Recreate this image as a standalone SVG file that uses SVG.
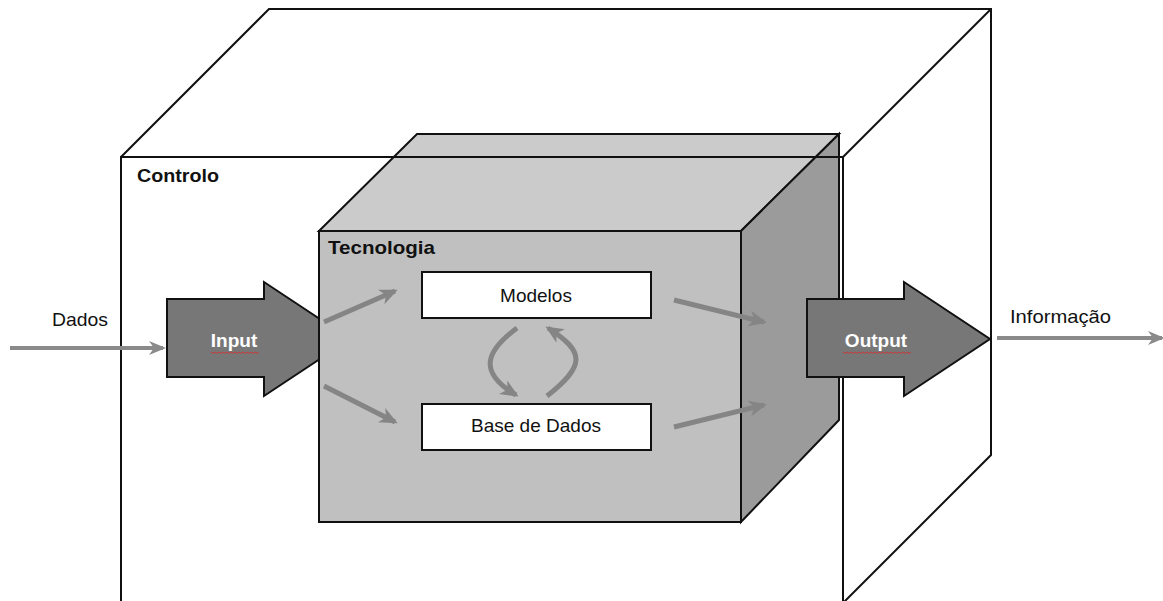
<svg xmlns="http://www.w3.org/2000/svg" width="1163" height="601" viewBox="0 0 1163 601">
  <defs>
    <style>
      .edge { fill: none; stroke: #111; stroke-width: 2; stroke-linejoin: miter; }
      .face-front { fill: #c0c0c0; stroke: #111; stroke-width: 2; }
      .face-top { fill: #cbcbcb; stroke: #111; stroke-width: 2; }
      .face-side { fill: #9b9b9b; stroke: #111; stroke-width: 2; }
      .block { fill: #777; stroke: #111; stroke-width: 2; }
      .box { fill: #fff; stroke: #111; stroke-width: 2; }
      .flow { fill: none; stroke: #858585; stroke-width: 5; stroke-linecap: butt; marker-end: url(#head); }
      .flow-thin { fill: none; stroke: #8a8a8a; stroke-width: 4; marker-end: url(#head-s); }
      .squiggle { fill: none; stroke: #d23030; stroke-width: 0.9; }
      text { font-family: "Liberation Sans", Arial, sans-serif; font-size: 19px; fill: #111; }
      .title { font-weight: bold; }
      .inv { font-weight: bold; fill: #fff; text-anchor: middle; }
      .mid { text-anchor: middle; }
    </style>
    <marker id="head" markerUnits="userSpaceOnUse" markerWidth="20" markerHeight="18" refX="15" refY="9" orient="auto">
      <path d="M0,1 L18,9 L0,17 L5,9 z" fill="#858585"/>
    </marker>
    <marker id="head-s" markerUnits="userSpaceOnUse" markerWidth="20" markerHeight="16" refX="14" refY="8" orient="auto">
      <path d="M0,1 L17,8 L0,15 L5,8 z" fill="#8a8a8a"/>
    </marker>
  </defs>

  <rect width="1163" height="601" fill="#fff"/>

  <!-- back edges of the control volume -->
  <g id="controlo-back">
    <path class="edge" d="M121,157 L269,9 L991,9 L991,455 L843,603"/>
    <path class="edge" d="M843,157 L991,9"/>
  </g>

  <!-- input block arrow (tip tucked behind the technology box) -->
  <g id="input">
    <path class="block" d="M167,299 L264,299 L264,282 L350,339 L264,396 L264,377 L167,377 z"/>
  </g>

  <!-- technology box -->
  <g id="tecnologia">
    <path class="face-top" d="M319,231 L417,134 L839,134 L741,231 z"/>
    <path class="face-side" d="M741,231 L839,134 L839,420 L741,522 z"/>
    <rect class="face-front" x="319" y="231" width="422" height="291"/>
    <text class="title" x="328" y="254" textLength="107" lengthAdjust="spacingAndGlyphs">Tecnologia</text>
  </g>

  <!-- front edges of the control volume -->
  <g id="controlo">
    <path class="edge" d="M121,605 L121,157 L843,157 L843,605"/>
    <text class="title" x="137" y="182" textLength="82" lengthAdjust="spacingAndGlyphs">Controlo</text>
  </g>

  <!-- output block arrow -->
  <g id="output">
    <path class="block" d="M807,299 L904,299 L904,282 L990,339 L904,396 L904,377 L807,377 z"/>
  </g>

  <g id="modelos">
    <rect class="box" x="422" y="272" width="229" height="46"/>
    <text class="mid" x="536" y="302">Modelos</text>
  </g>

  <g id="base-de-dados">
    <rect class="box" x="422" y="404" width="229" height="46"/>
    <text class="mid" x="536" y="432">Base de Dados</text>
  </g>

  <!-- flows -->
  <g id="connectors">
    <path class="flow-thin" d="M10,348 L163,348"/>
    <path class="flow-thin" d="M997,338 L1162,338"/>
    <path class="flow" d="M324,322 L395,291"/>
    <path class="flow" d="M324,386 L395,422"/>
    <path class="flow" d="M674,300 L764,322"/>
    <path class="flow" d="M674,427 L764,405"/>
    <path class="flow" d="M517,328 C485,352 478,372 516,395"/>
    <path class="flow" d="M547,396 C585,366 586,352 548,328"/>
  </g>

  <!-- labels -->
  <g id="labels">
    <text x="52" y="326" textLength="56" lengthAdjust="spacingAndGlyphs">Dados</text>
    <text x="1010" y="323" textLength="101" lengthAdjust="spacingAndGlyphs">Informação</text>
    <text class="inv" x="234" y="347">Input</text>
    <path class="squiggle" d="M211,352 l2,1.5 l2,-1.5 l2,1.5 l2,-1.5 l2,1.5 l2,-1.5 l2,1.5 l2,-1.5 l2,1.5 l2,-1.5 l2,1.5 l2,-1.5 l2,1.5 l2,-1.5 l2,1.5 l2,-1.5 l2,1.5 l2,-1.5 l2,1.5 l2,-1.5 l2,1.5 l2,-1.5 l2,1.5 l2,-1.5"/>
    <text class="inv" x="876" y="347">Output</text>
    <path class="squiggle" d="M843,352 l2,1.5 l2,-1.5 l2,1.5 l2,-1.5 l2,1.5 l2,-1.5 l2,1.5 l2,-1.5 l2,1.5 l2,-1.5 l2,1.5 l2,-1.5 l2,1.5 l2,-1.5 l2,1.5 l2,-1.5 l2,1.5 l2,-1.5 l2,1.5 l2,-1.5 l2,1.5 l2,-1.5 l2,1.5 l2,-1.5 l2,1.5 l2,-1.5 l2,1.5 l2,-1.5 l2,1.5 l2,-1.5 l2,1.5 l2,-1.5 l2,1.5 l2,-1.5"/>
  </g>
</svg>
